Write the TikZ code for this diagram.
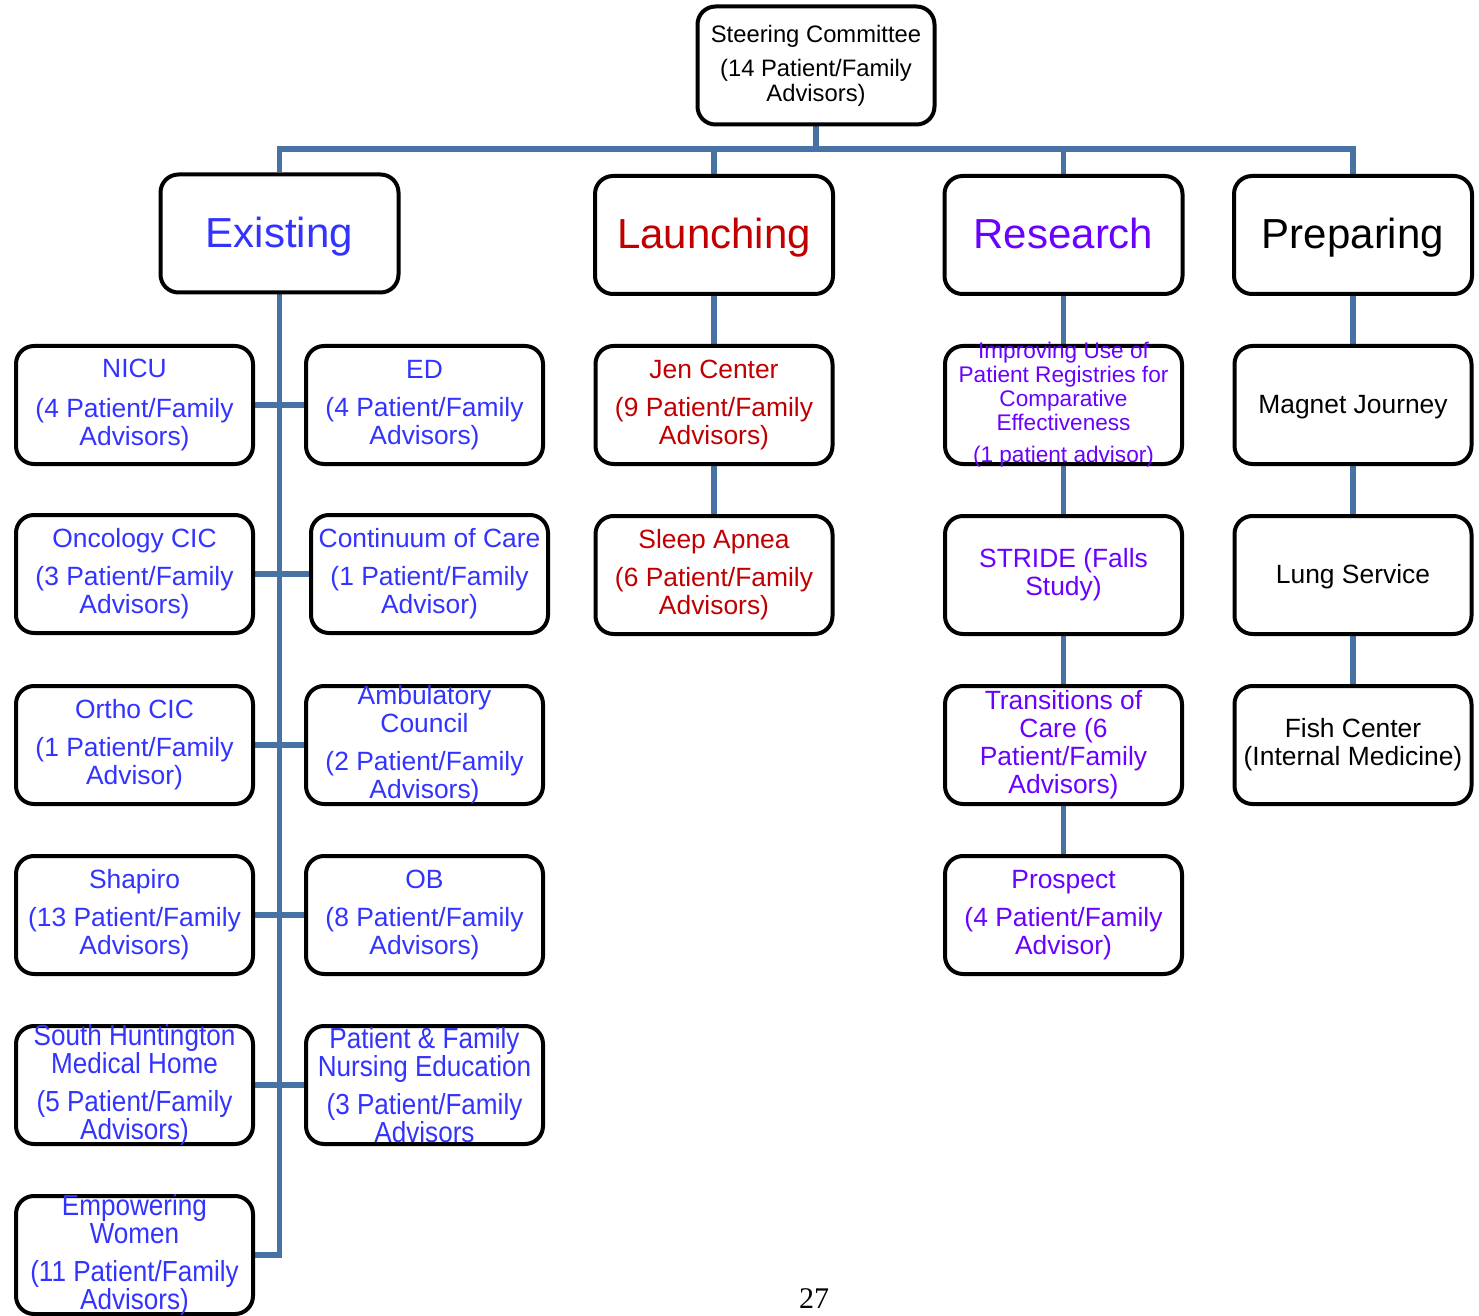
\documentclass[tikz,border=0pt]{standalone}
\usepackage{fontspec}
\setmainfont{Liberation Sans}
\newfontfamily\condfont[FakeStretch=0.9]{Liberation Sans}
\newfontfamily\pagenumfont{Liberation Serif}
\usetikzlibrary{backgrounds}
\definecolor{cblue}{HTML}{3333FF}
\definecolor{cred}{HTML}{C00000}
\definecolor{cpurp}{HTML}{6A00FF}
\definecolor{cline}{HTML}{4672A4}
\tikzset{
  box/.style={draw=black, line width=2pt, rounded corners=9pt, fill=white,
    minimum width=118.5pt, minimum height=59pt, inner sep=0pt},
  topbox/.style={box, minimum width=119pt, minimum height=59pt},
  conn/.style={draw=cline, line width=2.6pt},
  txt/.style={align=center, inner sep=0pt, font=\fontsize{13.2}{14}\selectfont},
  bigtxt/.style={align=center, inner sep=0pt, font=\fontsize{21}{25}\selectfont,
    text height=15pt, text depth=4.4pt},
  smalltxt/.style={align=center, inner sep=0pt, font=\fontsize{11.3}{12}\selectfont},
  steertxt/.style={align=center, inner sep=0pt, font=\fontsize{11.9}{12.5}\selectfont},
  condtxt/.style={align=center, inner sep=0pt, font=\fontsize{14.5}{14}\condfont},
  blu/.style={text=cblue}, rd/.style={text=cred}, pur/.style={text=cpurp}, blk/.style={text=black}
}
\newcommand\orgbox[5]{%
  \node[#2] (#1) at (#3) {};
  \node[#4] (#1t) at (#1.center) {#5};}
\begin{document}
\begin{tikzpicture}[x=0.5pt,y=-0.5pt]
\useasboundingbox (0,0) rectangle (1479,1316);
% top
\orgbox{steer}{topbox, minimum width=118.5pt}{816,65.5}{steertxt}{Steering Committee\\[4.5pt] (14 Patient/Family\\Advisors)}
\orgbox{exist}{topbox}{279.5,233.5}{bigtxt,blu,yshift=-1.5pt}{Existing}
\orgbox{launch}{topbox}{714,235}{bigtxt,rd,yshift=-1.5pt}{Launching}
\orgbox{resch}{topbox}{1063.5,235}{bigtxt,pur,yshift=-1.5pt}{Research}
\orgbox{prep}{topbox}{1353,235}{bigtxt,blk,yshift=-1.5pt}{Preparing}
% existing
\orgbox{nicu}{box}{134.5,405}{txt,blu}{NICU\\[6pt](4 Patient/Family\\Advisors)}
\orgbox{ed}{box}{424.5,405}{txt,blu}{ED\\[5pt](4 Patient/Family\\Advisors)}
\orgbox{onco}{box}{134.5,574}{txt,blu}{Oncology CIC\\[5pt](3 Patient/Family\\Advisors)}
\orgbox{cont}{box}{429.5,574}{txt,blu}{Continuum of Care\\[5pt](1 Patient/Family\\Advisor)}
\orgbox{ortho}{box}{134.5,745}{txt,blu}{Ortho CIC\\[5pt](1 Patient/Family\\Advisor)}
\orgbox{amb}{box}{424.5,745}{txt,blu}{Ambulatory\\Council\\[5pt](2 Patient/Family\\Advisors)}
\orgbox{shap}{box}{134.5,915}{txt,blu}{Shapiro\\[5pt](13 Patient/Family\\Advisors)}
\orgbox{ob}{box}{424.5,915}{txt,blu}{OB\\[5pt](8 Patient/Family\\Advisors)}
\orgbox{south}{box}{134.5,1085}{condtxt,blu}{South Huntington\\Medical Home\\[5pt](5 Patient/Family\\Advisors)}
\orgbox{pfne}{box}{424.5,1085}{condtxt,blu}{Patient \& Family\\Nursing Education\\[5pt](3 Patient/Family\\Advisors}
\orgbox{empw}{box}{134.5,1255}{condtxt,blu}{Empowering\\Women\\[5pt](11 Patient/Family\\Advisors)}
% launching
\orgbox{jen}{box}{714,405}{txt,rd}{Jen Center\\[5pt](9 Patient/Family\\Advisors)}
\orgbox{sleep}{box}{714,575}{txt,rd}{Sleep Apnea\\[5pt](6 Patient/Family\\Advisors)}
% research
\orgbox{impr}{box}{1063.5,405}{smalltxt,pur}{Improving Use of\\Patient Registries for\\Comparative\\Effectiveness\\[4pt](1 patient advisor)}
\orgbox{stride}{box}{1063.5,575}{txt,pur}{STRIDE (Falls\\Study)}
\orgbox{trans}{box}{1063.5,745}{txt,pur}{Transitions of\\Care (6\\Patient/Family\\Advisors)}
\orgbox{prosp}{box}{1063.5,915}{txt,pur}{Prospect\\[5pt](4 Patient/Family\\Advisor)}
% preparing
\orgbox{magnet}{box}{1353,405}{txt,blk,yshift=-1pt}{Magnet Journey}
\orgbox{lung}{box}{1353,575}{txt,blk,yshift=-1pt}{Lung Service}
\orgbox{fish}{box}{1353,745}{txt,blk}{Fish Center\\(Internal Medicine)}
% page number
\node[inner sep=0pt, font=\fontsize{15}{18}\pagenumfont] (pnum) at (814,1299) {27};
% connectors
\coordinate (bus) at (816,149);
\begin{pgfonlayer}{background}
\draw[conn] (steer.south) -- (bus);
\draw[conn] (exist.north) |- (bus) -| (prep.north);
\draw[conn] (launch.north) -- (launch.north |- bus);
\draw[conn] (resch.north) -- (resch.north |- bus);
\draw[conn] (exist.south) |- (empw.east);
\draw[conn] (nicu.east) -- (ed.west);
\draw[conn] (onco.east) -- (cont.west);
\draw[conn] (ortho.east) -- (amb.west);
\draw[conn] (shap.east) -- (ob.west);
\draw[conn] (south.east) -- (pfne.west);
\draw[conn] (launch.south) -- (jen.north);
\draw[conn] (jen.south) -- (sleep.north);
\draw[conn] (resch.south) -- (impr.north);
\draw[conn] (impr.south) -- (stride.north);
\draw[conn] (stride.south) -- (trans.north);
\draw[conn] (trans.south) -- (prosp.north);
\draw[conn] (prep.south) -- (magnet.north);
\draw[conn] (magnet.south) -- (lung.north);
\draw[conn] (lung.south) -- (fish.north);
\end{pgfonlayer}
\end{tikzpicture}
\end{document}
